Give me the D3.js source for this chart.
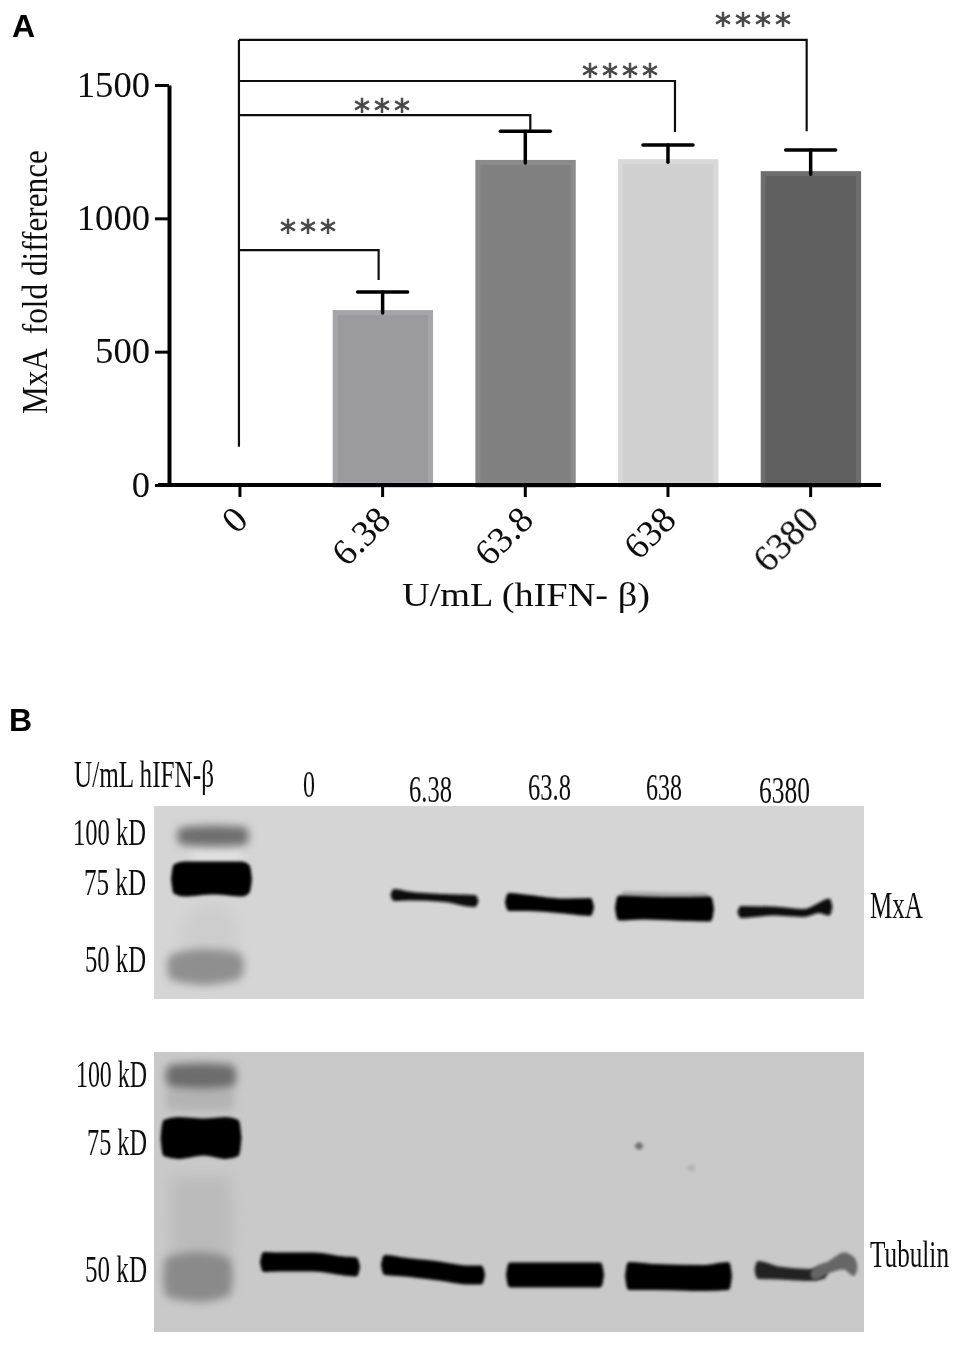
<!DOCTYPE html>
<meta charset="utf-8">
<style>
body { margin: 0; background: #fff; }
text { font-family: "Liberation Serif", serif; fill: #111; }
.panel { font-family: "Liberation Sans", sans-serif; font-weight: bold; font-size: 32px; fill: #000; }
.star { font-family: "DejaVu Sans", sans-serif; font-size: 32px; fill: #444; stroke: #444; stroke-width: 0.7px; letter-spacing: 4px; text-anchor: middle; }
.bracket { fill: none; stroke: #111; stroke-width: 2.2px; }
.err { stroke: #000; stroke-width: 3.5px; stroke-linecap: round; }
.axis path, .axis line { stroke: #000; }
.axis path { stroke-width: 4px; }
.axis line { stroke-width: 3px; }
</style>
<body>
<svg width="965" height="1346">
  <defs>
    <filter id="soft" x="-5%" y="-5%" width="110%" height="110%"><feGaussianBlur stdDeviation="0.5"/></filter>
    <filter id="b1" x="-30%" y="-150%" width="160%" height="400%"><feGaussianBlur stdDeviation="1.7"/></filter>
    <filter id="b4" x="-50%" y="-150%" width="200%" height="400%"><feGaussianBlur stdDeviation="4"/></filter>
    <filter id="b8" x="-50%" y="-150%" width="200%" height="400%"><feGaussianBlur stdDeviation="7"/></filter>
  </defs>
</svg>
<script src="https://d3js.org/d3.v7.min.js"></script>
<script>

// panel A values
var doses = ["0", "6.38", "63.8", "638", "6380"];
var means = [0, 656, 1219, 1222, 1177];
var errTops = [null, 724, 1327, 1275, 1256];
var barFills = ["none", "#9b9a9f", "#808080", "#d0d0d0", "#5f5f5f"];
var barEdges = ["none", "#a6a6aa", "#8b8b8b", "#d9d9d9", "#6e6e6e"];
var yTicks = [0, 500, 1000, 1500];

// significance brackets, all start from dose 0
var bracketDose = ["6.38", "63.8", "638", "6380"];
var bracketLevel = [881, 1387, 1515, 1669];
var bracketEnd = [769, 1331, 1324, 1327];
var bracketFloor = 143;
var bracketStars = ["***", "***", "****", "****"];

// panel B text
var laneLabels = ["0", "6.38", "63.8", "638", "6380"];
var sizeLabels = ["100 kD", "75 kD", "50 kD"];

// blot bands, each point is [along gel, across gel, thickness] in gel units
var mxaLadder100 = [[27, 30, 13], [60, 30, 17], [91, 30, 14]];
var mxaLadder75 = [[21, 73, 26], [30, 73, 31], [60, 72, 29], [88, 73, 31], [94, 73, 25]];
var mxaLadder50 = [[18, 161, 20], [50, 161, 30], [85, 160, 20]];
var mxa638 = [[240, 89, 9], [255, 90, 6], [290, 92, 5], [321, 95, 9]];
var mxa638Lane = [[355, 96, 14], [375, 97, 12], [410, 100, 11], [436, 101, 14]];
var mxa6380Lane = [[465, 102, 21], [490, 102, 19], [530, 103, 20], [556, 103, 21]];
var mxa6380Smear = [[470, 90, 8], [520, 91, 7], [552, 91, 7]];
var mxaLast = [[587, 106, 9], [620, 105, 6], [650, 107, 5], [665, 102, 7], [675, 101, 14]];

var tubLadder100 = [[16, 24, 17], [48, 24, 21], [78, 24, 17]];
var tubLadder75 = [[11, 86, 32], [24, 86, 37], [50, 85, 32], [72, 86, 37], [83, 86, 32]];
var tubLadder50 = [[14, 225, 34], [45, 225, 44], [74, 225, 32]];
var tubLane1 = [[110, 210, 16], [125, 210, 15], [160, 210, 15], [190, 214, 15], [202, 215, 15]];
var tubLane2 = [[231, 213, 16], [250, 215, 15], [285, 219, 15], [315, 223, 15], [327, 223, 15]];
var tubLane3 = [[356, 223, 21], [380, 223, 21], [420, 223, 21], [446, 223, 21]];
var tubLane4 = [[475, 224, 24], [500, 225, 22], [550, 226, 22], [574, 224, 24]];
var tubLane5a = [[604, 218, 15], [625, 221, 10], [655, 223, 9], [670, 221, 8]];
var tubLane5b = [[660, 222, 9], [675, 215, 9], [690, 209, 14], [700, 215, 15]];

var svg = d3.select("svg");
var chart = svg.append("g").attr("filter", "url(#soft)");

var x = d3.scaleBand().domain(doses).range([168.6, 882]).paddingInner(0.3).paddingOuter(0.15);
var y = d3.scaleLinear().domain([0, 1500]).range([485, 85]);

chart.append("text").attr("class", "panel").attr("x", 12).attr("y", 37).text("A");
chart.append("text").attr("class", "panel").attr("x", 9).attr("y", 731).text("B");

// bars
var rows = doses.map(function(d, i) {
  return {dose: d, mean: means[i], top: errTops[i], fill: barFills[i], edge: barEdges[i]};
}).filter(function(d) { return d.mean > 0; });

chart.selectAll(".bar").data(rows).enter().append("rect")
    .attr("class", "bar")
    .attr("x", function(d) { return x(d.dose) + 2.5; })
    .attr("y", function(d) { return y(d.mean) + 2.5; })
    .attr("width", x.bandwidth() - 4.5)
    .attr("height", function(d) { return y(0) - y(d.mean) - 2.5; })
    .attr("fill", function(d) { return d.fill; })
    .attr("stroke", function(d) { return d.edge; })
    .attr("stroke-width", 5);

// error bars
chart.selectAll(".stem").data(rows).enter().append("line")
    .attr("class", "err")
    .attr("x1", function(d) { return x(d.dose) + x.bandwidth() / 2; })
    .attr("x2", function(d) { return x(d.dose) + x.bandwidth() / 2; })
    .attr("y1", function(d) { return y(d.mean) + 3; })
    .attr("y2", function(d) { return y(d.top); });
chart.selectAll(".cap").data(rows).enter().append("line")
    .attr("class", "err")
    .attr("x1", function(d) { return x(d.dose) + x.bandwidth() / 2 - 25; })
    .attr("x2", function(d) { return x(d.dose) + x.bandwidth() / 2 + 25; })
    .attr("y1", function(d) { return y(d.top); })
    .attr("y2", function(d) { return y(d.top); });

// brackets
var x0 = x("0") + x.bandwidth() / 2 - 1;
var nudge = [-4, 5, 7, -4];
bracketDose.forEach(function(d, i) {
  var xe = x(d) + x.bandwidth() / 2 + nudge[i];
  chart.append("path").attr("class", "bracket")
      .attr("d", d3.line()([[x0, y(bracketLevel[i])], [xe, y(bracketLevel[i])], [xe, y(bracketEnd[i])]]));
});
chart.append("line").attr("class", "bracket")
    .attr("x1", x0).attr("x2", x0)
    .attr("y1", y(d3.max(bracketLevel))).attr("y2", y(bracketFloor));

var starX = [310, 384, 622, 755];
var starY = [242, 121, 86, 35];
bracketStars.forEach(function(s, i) {
  chart.append("text").attr("class", "star").attr("x", starX[i]).attr("y", starY[i]).text(s);
});

// squeeze or stretch a text to a given span
function fit(sel, x1, x2, base) {
  var len = sel.node().getComputedTextLength();
  sel.attr("x", 0).attr("y", 0).attr("dx", 0).attr("dy", 0)
      .attr("transform", "translate(" + x1 + "," + base + ") scale(" + (x2 - x1) / len + ",1)");
}

// axes
var yAxis = chart.append("g").attr("class", "axis").attr("transform", "translate(169,0)")
    .call(d3.axisLeft(y).tickValues(yTicks).tickFormat(d3.format("d")).tickSize(14).tickSizeOuter(0).tickPadding(5));
yAxis.selectAll("text").style("font-size", "35px")
    .each(function(d) {
      var w = String(d).length * 18.3;
      d3.select(this).style("text-anchor", "start");
      fit(d3.select(this), -w - 19, -19, 11);
    });

var xAxis = chart.append("g").attr("class", "axis").attr("transform", "translate(0,485)")
    .call(d3.axisBottom(x).tickSize(12).tickSizeOuter(0));
xAxis.select("path").attr("d", "M158,0H881");
xAxis.selectAll("text")
    .style("font-size", "37px")
    .style("text-anchor", "end")
    .attr("dx", 0).attr("dy", 0)
    .attr("y", 0).attr("x", 0)
    .attr("transform", "translate(10,37) rotate(-45)");

chart.append("text").style("font-size", "36px").style("white-space", "pre")
    .text("MxA  fold difference")
    .call(function(s) {
      var len = s.node().getComputedTextLength();
      s.attr("transform", "translate(47,414) rotate(-90) scale(" + 264 / len + ",1)");
    });
chart.append("text").style("font-size", "33px")
    .text("U/mL (hIFN- β)")
    .call(function(s) { fit(s, 402, 650, 606); });

// blots
var blots = [
  {id: "gel1", left: 154, top: 806, w: 710, h: 193, bg: "#d5d5d5"},
  {id: "gel2", left: 154, top: 1052, w: 710, h: 280, bg: "#c9c9c9"}
];

// pinch both ends so a band finishes round
function taper(p) {
  var a = p[0], b = p[p.length - 1];
  return [[a[0] - 2, a[1], 0], [a[0] - 1, a[1], a[2] * 0.6]].concat(p, [[b[0] + 1, b[1], b[2] * 0.6], [b[0] + 2, b[1], 0]]);
}

function gel(b) {
  var gx = d3.scaleLinear().domain([0, b.w]).range([b.left, b.left + b.w]);
  var gy = d3.scaleLinear().domain([0, b.h]).range([b.top, b.top + b.h]);
  var area = d3.area()
      .x(function(d) { return gx(d[0]); })
      .y0(function(d) { return gy(d[1] - d[2] / 2); })
      .y1(function(d) { return gy(d[1] + d[2] / 2); })
      .curve(d3.curveMonotoneX);
  svg.select("defs").append("clipPath").attr("id", "clip" + b.id).append("rect")
      .attr("x", b.left).attr("y", b.top).attr("width", b.w).attr("height", b.h);
  var g = svg.append("g").attr("clip-path", "url(#clip" + b.id + ")");
  g.append("rect").attr("x", b.left).attr("y", b.top).attr("width", b.w).attr("height", b.h).attr("fill", b.bg);
  return function(points, color, blur, round) {
    g.append("path").attr("d", area(taper(points)))
        .attr("fill", color)
        .attr("stroke", color)
        .attr("stroke-width", round)
        .attr("stroke-linejoin", "round")
        .attr("filter", "url(#" + blur + ")");
  };
}

var band1 = gel(blots[0]);
band1([[40, 50, 12], [60, 50, 14], [85, 50, 12]], "#e2e2e2", "b4", 2);
band1([[30, 130, 30], [60, 125, 55], [82, 130, 30]], "#cdcdcd", "b8", 2);
band1(mxaLadder100, "#6e6e6e", "b4", 4);
band1(mxaLadder50, "#8f8f8f", "b4", 6);
band1(mxaLadder75, "#000", "b1", 4);
band1(mxa6380Smear, "#a8a8a8", "b1", 2);
band1(mxa638, "#111", "b1", 3);
band1(mxa638Lane, "#000", "b1", 4);
band1(mxa6380Lane, "#000", "b1", 4);
band1(mxaLast, "#111", "b1", 3);

var band2 = gel(blots[1]);
band2([[14, 48, 18], [50, 48, 20], [78, 48, 18]], "#b4b4b4", "b4", 2);
band2([[18, 170, 90], [50, 170, 90], [76, 170, 90]], "#bbbbbb", "b8", 1);
band2(tubLadder100, "#6c6c6c", "b4", 5);
band2(tubLadder50, "#8a8a8a", "b4", 6);
band2(tubLadder75, "#000", "b1", 5);
band2(tubLane1, "#000", "b1", 4);
band2(tubLane2, "#000", "b1", 4);
band2(tubLane3, "#000", "b1", 4);
band2(tubLane4, "#000", "b1", 4);
band2(tubLane5a, "#222", "b1", 3);
band2(tubLane5b, "#666", "b1", 3);
band2([[483, 94, 5], [485, 94, 7], [487, 94, 5]], "#707070", "b1", 1);
band2([[535, 116, 4], [537, 116, 5], [539, 116, 4]], "#b0b0b0", "b1", 1);

// blot labels, squeezed to the widths in the figure
function squeezed(t, x1, x2, base) {
  var s = svg.append("text").style("font-size", "38px").attr("filter", "url(#soft)").text(t);
  fit(s, x1, x2, base);
}
squeezed("U/mL hIFN-β", 74, 214, 787);
var laneX = [[303, 315, 797], [409, 452, 802], [528, 571, 800], [646, 682, 800], [759, 810, 803]];
laneLabels.forEach(function(t, i) { squeezed(t, laneX[i][0], laneX[i][1], laneX[i][2]); });
var sizeA = [[73, 146, 845], [84, 146, 895], [85, 146, 972]];
var sizeB = [[76, 147, 1087], [87, 147, 1155], [85, 147, 1282]];
sizeLabels.forEach(function(t, i) {
  squeezed(t, sizeA[i][0], sizeA[i][1], sizeA[i][2]);
  squeezed(t, sizeB[i][0], sizeB[i][1], sizeB[i][2]);
});
squeezed("MxA", 870, 923, 918);
squeezed("Tubulin", 870, 949, 1267);

</script>
</body>
